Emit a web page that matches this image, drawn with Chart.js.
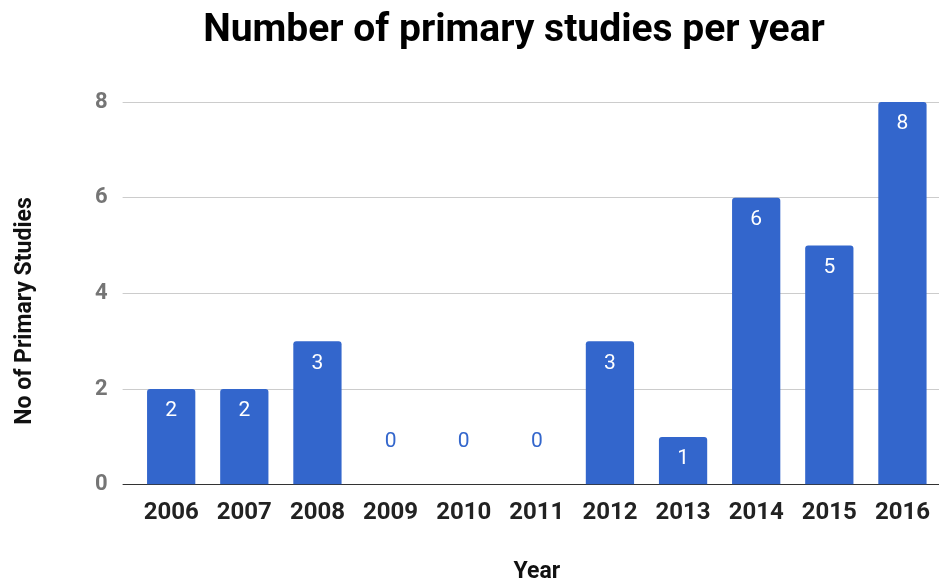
<!DOCTYPE html>
<html>
<head>
<meta charset="utf-8">
<script src="https://cdn.jsdelivr.net/npm/chart.js@4/dist/chart.umd.min.js"></script>
<style>
  html, body { margin: 0; padding: 0; background: #fff; }
  #wrap { position: relative; width: 940px; height: 581px; }
  #title {
    position: absolute; left: 0; top: 9px; width: 1028px;
    text-align: center; font: bold 39px/1 Roboto, sans-serif; color: #000;
  }
  #ytitle {
    position: absolute; left: -125px; top: 296px; width: 300px; height: 30px;
    line-height: 30px; text-align: center; transform: rotate(-90deg);
    font: bold 23px Roboto, sans-serif; color: #111;
  }
</style>
</head>
<body>
<div id="wrap">
  <canvas id="chart" width="940" height="581"></canvas>
  <div id="title">Number of primary studies per year</div>
  <div id="ytitle">No of Primary Studies</div>
</div>
<script>
const years = ["2006", "2007", "2008", "2009", "2010", "2011", "2012", "2013", "2014", "2015", "2016"];
const studies = [2, 2, 3, 0, 0, 0, 3, 1, 6, 5, 8];
const yTicks = [0, 2, 4, 6, 8];

const barColor = "#3366cc";

// value labels like the original: white inside the bar, blue above the axis for zero
const valueLabels = {
  id: "valueLabels",
  afterDatasetsDraw(chart) {
    const ctx = chart.ctx;
    const meta = chart.getDatasetMeta(0);
    const yScale = chart.scales.y;
    ctx.save();
    ctx.font = "21px Roboto";
    ctx.textAlign = "center";
    ctx.textBaseline = "middle";
    meta.data.forEach((bar, i) => {
      const v = studies[i];
      if (v === 0) {
        ctx.fillStyle = barColor;
        ctx.fillText(String(v), bar.x, yScale.getPixelForValue(0) - 43);
      } else {
        ctx.fillStyle = "#ffffff";
        ctx.fillText(String(v), bar.x, yScale.getPixelForValue(v) + 22);
      }
    });
    ctx.restore();
  }
};

new Chart(document.getElementById("chart"), {
  type: "bar",
  data: {
    labels: years,
    datasets: [{
      data: studies,
      backgroundColor: barColor,
      borderRadius: { topLeft: 3, topRight: 3 },
      borderSkipped: "bottom",
      barPercentage: 0.66,
      categoryPercentage: 1
    }]
  },
  options: {
    responsive: false,
    animation: false,
    layout: { padding: { top: 102, right: 1, bottom: 0, left: 80 } },
    plugins: {
      legend: { display: false },
      tooltip: { enabled: false },
      title: { display: false }
    },
    scales: {
      x: {
        grid: { display: false, drawTicks: true, tickLength: 8 },
        border: { display: false },
        ticks: {
          color: "#222",
          padding: 6,
          font: { family: "Roboto", size: 24, weight: "bold" }
        },
        title: {
          display: true,
          text: "Year",
          color: "#111",
          font: { family: "Roboto", size: 23, weight: "bold", lineHeight: 0.8 },
          padding: { top: 29, bottom: 0 }
        }
      },
      y: {
        min: 0,
        max: 8,
        afterBuildTicks(scale) {
          scale.ticks = yTicks.map(v => ({ value: v }));
        },
        grid: {
          color: ctx => (ctx.tick && ctx.tick.value === 0 ? "#333" : "#ccc"),
          lineWidth: 1,
          tickLength: 12
        },
        border: { display: false },
        ticks: {
          color: "#757575",
          padding: 15,
          font: { family: "Roboto", size: 22, weight: "bold" }
        }
      }
    }
  },
  plugins: [valueLabels]
});
</script>
</body>
</html>
